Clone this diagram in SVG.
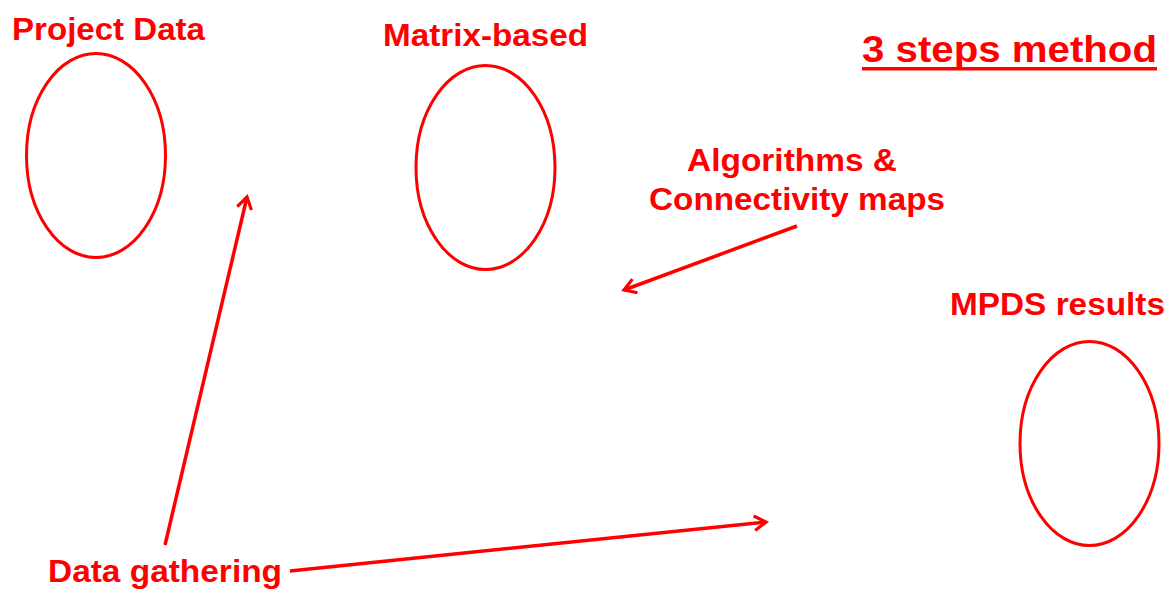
<svg xmlns="http://www.w3.org/2000/svg" width="1171" height="590" viewBox="0 0 1171 590">
<style>
.lbl{font-family:"Liberation Sans",Arial,sans-serif;font-weight:bold;font-size:32px;fill:#ff0000}
.ell{fill:none;stroke:#ff0000;stroke-width:3}
.con{fill:none;stroke:#ff0000;stroke-width:3.5}
</style>
<defs>
<marker id="arr" viewBox="0 0 12 12" refX="10" refY="6" markerWidth="5" markerHeight="5" orient="auto" markerUnits="strokeWidth">
<polyline points="2,1 10,6 2,11" fill="none" stroke="#ff0000" stroke-width="2.2"/>
</marker>
</defs>
<rect width="1171" height="590" fill="#ffffff"/>
<g id="title">
<text class="lbl" x="862" y="62" style="font-size:36px" textLength="295" lengthAdjust="spacingAndGlyphs">3 steps method</text>
<rect x="862" y="67" width="295" height="3.5" fill="#ff0000"/>
</g>
<g id="project-data">
<text class="lbl" x="12" y="40" textLength="193" lengthAdjust="spacingAndGlyphs">Project Data</text>
<ellipse class="ell" cx="96" cy="155.5" rx="69.5" ry="102"/>
</g>
<g id="matrix-based">
<text class="lbl" x="383" y="46" textLength="205" lengthAdjust="spacingAndGlyphs">Matrix-based</text>
<ellipse class="ell" cx="485.5" cy="167.5" rx="69.5" ry="102"/>
</g>
<g id="algorithms">
<text class="lbl" x="687" y="171" textLength="210" lengthAdjust="spacingAndGlyphs">Algorithms &amp;</text>
<text class="lbl" x="649" y="210" textLength="296" lengthAdjust="spacingAndGlyphs">Connectivity maps</text>
</g>
<g id="mpds-results">
<text class="lbl" x="950" y="315" textLength="215" lengthAdjust="spacingAndGlyphs">MPDS results</text>
<ellipse class="ell" cx="1089.5" cy="443.5" rx="69.5" ry="102"/>
</g>
<g id="data-gathering">
<text class="lbl" x="48" y="582" textLength="234" lengthAdjust="spacingAndGlyphs">Data gathering</text>
</g>
<g id="connectors">
<line class="con" x1="165" y1="545" x2="247" y2="197" marker-end="url(#arr)"/>
<line class="con" x1="290" y1="571" x2="766" y2="522" marker-end="url(#arr)"/>
<line class="con" x1="797" y1="226" x2="624" y2="290" marker-end="url(#arr)"/>
</g>
</svg>
